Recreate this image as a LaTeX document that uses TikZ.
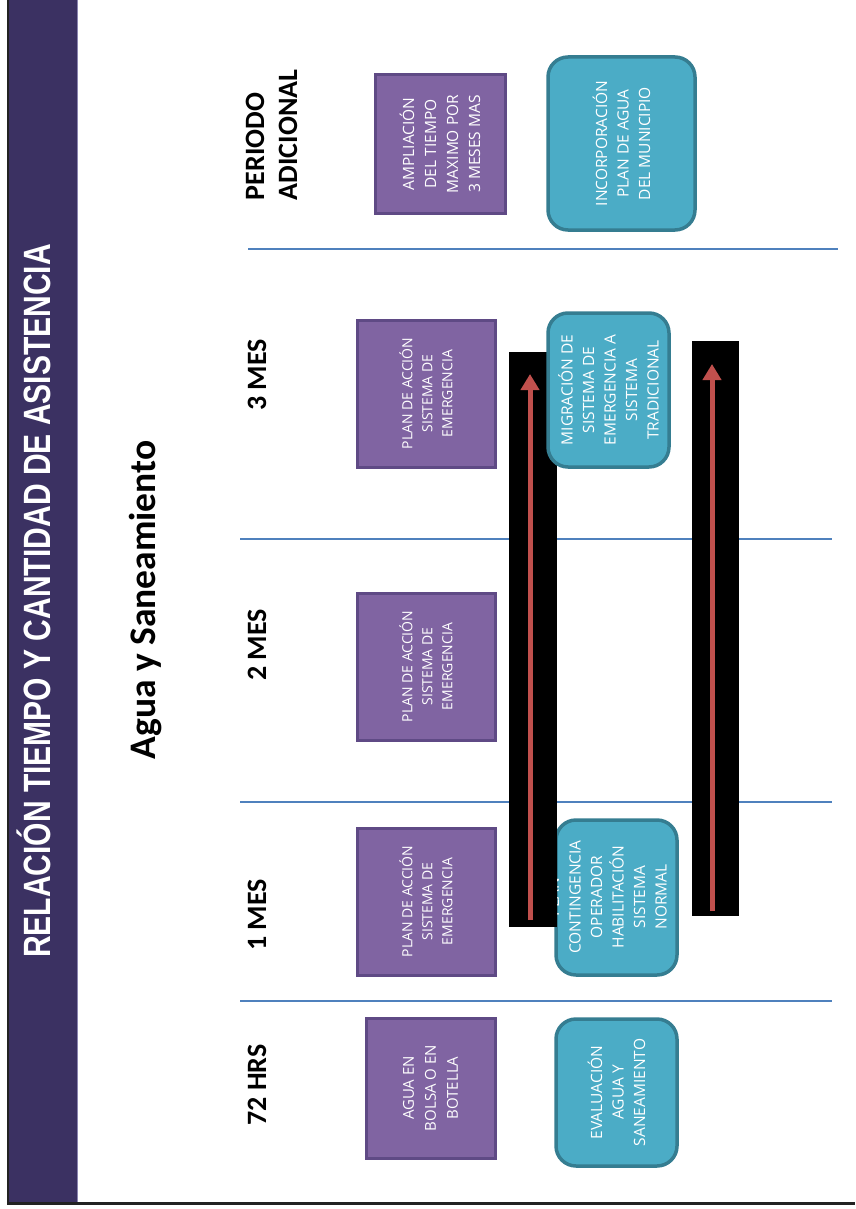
\documentclass[tikz,border=0pt]{standalone}
\usepackage{fontspec}
\setmainfont{Open Sans}
\newfontfamily\titlefont[FakeStretch=0.79]{Liberation Sans}
\newfontfamily\headfont{Carlito}
\usetikzlibrary{arrows.meta}
\definecolor{band}{HTML}{3B3162}
\definecolor{bandedge}{HTML}{8A84B0}
\definecolor{frameline}{HTML}{222222}
\definecolor{sepblue}{HTML}{4F81BD}
\definecolor{purfill}{HTML}{8064A2}
\definecolor{purline}{HTML}{5F4A85}
\definecolor{cyfill}{HTML}{4BACC6}
\definecolor{cyline}{HTML}{357D91}
\definecolor{arrowred}{HTML}{C0504D}
\tikzset{
  purbox/.style={rotate=90, draw=purline, fill=purfill, line width=3pt, inner sep=0pt, align=center, text=white},
  cybox/.style={rotate=90, draw=cyline, fill=cyfill, line width=3.5pt, rounded corners=20pt, inner sep=0pt, align=center, text=white},
  boxtext/.style={rotate=90, inner sep=0pt, align=center, text=white},
  header/.style={rotate=90, anchor=base, inner sep=0pt, font=\headfont\bfseries\fontsize{28}{33}\selectfont},
  sepline/.style={draw=sepblue, line width=1.5pt},
  redarrow/.style={draw=arrowred, line width=5pt, -{Triangle[width=18pt,length=16pt]}},
  blackbar/.style={fill=black, draw=none, inner sep=0pt}
}
\begin{document}
\begin{tikzpicture}[x=1pt,y=-1pt]
\useasboundingbox (0,0) rectangle (855,1209);
% frame and band
\fill[band] (9,0) rectangle (77,1202);
\draw[bandedge, line width=1pt] (77,0) -- (77,1202);
\draw[frameline, line width=2.5pt] (8,0) -- (8,1203.5) -- (855,1203.5);
\node[rotate=90, anchor=base, inner sep=0pt, text=white, font=\titlefont\bfseries\fontsize{38}{40}\selectfont] (title) at (50.5,601) {RELACIÓN TIEMPO Y CANTIDAD DE ASISTENCIA};
% subtitle
\node[rotate=90, anchor=base, inner sep=0pt, font=\headfont\bfseries\fontsize{37.5}{40}\selectfont] (sub) at (155,600) {Agua y Saneamiento};
% headers
\node[header] (h72) at (266,1085) {72 HRS};
\node[header] (h1) at (266,915) {1 MES};
\node[header] (h2) at (266,645) {2 MES};
\node[header] (h3) at (266,375) {3 MES};
\node[header, align=left] (had) at (297,135) {PERIODO\\ADICIONAL};
% separators
\coordinate (s1a) at (240,1001); \coordinate (s1b) at (832,1001);
\coordinate (s2a) at (240,802); \coordinate (s2b) at (832,802);
\coordinate (s3a) at (240,539); \coordinate (s3b) at (832,539);
\coordinate (s4a) at (248,249); \coordinate (s4b) at (838,249);
\draw[sepline] (s1a) -- (s1b);
\draw[sepline] (s2a) -- (s2b);
\draw[sepline] (s3a) -- (s3b);
\draw[sepline] (s4a) -- (s4b);
% purple boxes
\node[purbox, minimum width=140pt, minimum height=129pt, font=\fontsize{15}{22}\selectfont] (p72) at (430.5,1088) {AGUA EN\\BOLSA O  EN\\BOTELLA};
\node[purbox, minimum width=147pt, minimum height=138pt, font=\fontsize{14}{20}\selectfont] (p1) at (426,901.5) {PLAN DE ACCIÓN\\SISTEMA  DE\\EMERGENCIA};
\node[purbox, minimum width=147pt, minimum height=138pt, font=\fontsize{14}{20}\selectfont] (p2) at (426,666.5) {PLAN DE ACCIÓN\\SISTEMA  DE\\EMERGENCIA};
\node[purbox, minimum width=147pt, minimum height=138pt, font=\fontsize{14}{20}\selectfont] (p3) at (426,393.5) {PLAN DE ACCIÓN\\SISTEMA  DE\\EMERGENCIA};
\node[purbox, minimum width=138pt, minimum height=130pt, font=\fontsize{15.5}{22}\selectfont] (pad) at (440,144) {AMPLIACIÓN\\DEL TIEMPO\\MAXIMO POR\\3 MESES MAS};
% cyan boxes
\node[cybox, minimum width=147pt, minimum height=121pt, font=\fontsize{15.5}{21.5}\selectfont] (c72) at (616.5,1092.5) {EVALUACIÓN\\AGUA Y\\SANEAMIENTO};
\node[cybox, minimum width=155pt, minimum height=121pt] (c1) at (616.5,897.5) {};
\node[boxtext, font=\fontsize{15.5}{21.5}\selectfont] (c1t) at (607.5,897) {PLAN\\CONTINGENCIA\\OPERADOR\\HABILITACIÓN\\SISTEMA\\NORMAL};
\node[cybox, minimum width=173pt, minimum height=147pt, font=\fontsize{15.5}{21.5}\selectfont] (cad) at (621.5,143.5) {INCORPORACIÓN\\PLAN DE AGUA\\DEL MUNICIPIO};
% black bars
\node[blackbar, minimum width=48pt, minimum height=575pt] (bar1) at (533,639.5) {};
\node[blackbar, minimum width=47pt, minimum height=575pt] (bar2) at (715.5,628.5) {};
% migracion box (on top of bar)
\node[cybox, minimum width=154pt, minimum height=121pt, font=\fontsize{15.5}{21.5}\selectfont] (c3) at (608.5,390) {MIGRACIÓN DE\\SISTEMA DE\\EMERGENCIA A\\SISTEMA\\TRADICIONAL};
% arrows
\coordinate (a1s) at (530,920); \coordinate (a1e) at (530,374);
\coordinate (a2s) at (712,911); \coordinate (a2e) at (712,364);
\draw[redarrow] (a1s) -- (a1e);
\draw[redarrow] (a2s) -- (a2e);
\end{tikzpicture}
\end{document}
